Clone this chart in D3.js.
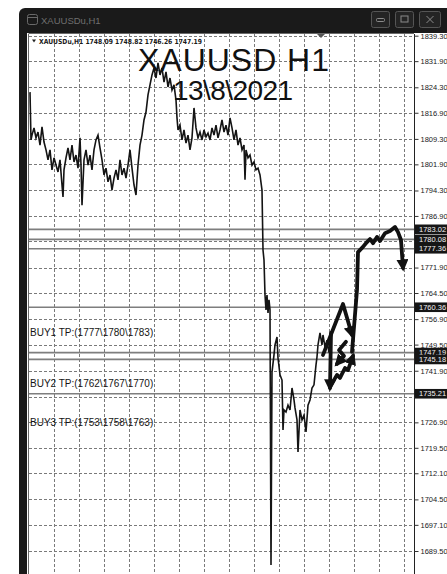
<!DOCTYPE html>
<html><head><meta charset="utf-8">
<script src="https://cdn.jsdelivr.net/npm/d3@7"></script>
<style>html,body{margin:0;padding:0;background:#fff;overflow:hidden}</style>
</head><body><svg id="c" width="447" height="574"></svg>
<script>
// ---------------- data ----------------
const windowTitle = "XAUUSDu,H1";
const ohlcHeader = "XAUUSDu,H1  1748.09 1748.82 1746.26 1747.19";
const chartTitle = "XAUUSD H1";
const chartDate = "13\\8\\2021";

const yTickValues = [1839.30, 1831.90, 1824.30, 1816.90, 1809.30, 1801.90, 1794.30, 1786.90, 1779.50, 1771.90,
  1764.50, 1756.90, 1749.50, 1741.90, 1734.30, 1726.90, 1719.50, 1712.10, 1704.50, 1697.10, 1689.50];
// tick labels covered by level labels in the reference
const hiddenTickValues = [1779.50, 1734.30];
const xGridHours = [25, 50, 75, 100, 125, 150, 175, 200, 225, 250, 275, 300, 325, 350, 375];

// level lines (price) drawn in this order
const levelPrices = [1783.02, 1780.08, 1777.36, 1760.36, 1747.19, 1745.18, 1735.21];

// annotations: texts and the price they sit at
const buyTexts = ["BUY1 TP:(1777\\1780\\1783)", "BUY2 TP:(1762\\1767\\1770)", "BUY3 TP:(1753\\1758\\1763)"];
const buyPrices = [1752.9, 1738.3, 1727.0];

// hourly close series [hour index, price]
const closeSeries = [
 [1,1822.9],[2,1809.0],[3,1810.4],[5,1812.5],[7,1809.6],[9,1811.3],[11,1807.5],[13,1812.8],[15,1808.4],[17,1806.1],
 [19,1803.2],[21,1806.1],[23,1800.3],[25,1803.8],[27,1801.7],[29,1799.7],[31,1803.2],[33,1795.9],[34,1792.4],[35,1800.3],
 [37,1803.8],[39,1806.7],[41,1803.2],[43,1807.5],[45,1802.6],[47,1804.6],[49,1800.8],[51,1809.6],[52,1801.7],[53,1790.0],
 [55,1803.2],[57,1806.1],[59,1801.7],[61,1804.6],[63,1800.3],[65,1806.1],[67,1809.0],[69,1810.4],[71,1806.7],[73,1803.2],
 [75,1798.8],[77,1800.8],[79,1796.8],[81,1798.8],[83,1794.4],[85,1797.9],[87,1800.3],[89,1797.4],[91,1803.2],[93,1798.8],
 [95,1800.8],[97,1797.9],[99,1801.7],[101,1806.1],[103,1800.8],[105,1795.9],[107,1793.0],[109,1801.7],[111,1807.5],[113,1810.4],
 [115,1814.8],[117,1817.1],[119,1822.1],[121,1825.0],[123,1827.9],[125,1829.9],[127,1827.0],[129,1831.4],[131,1827.9],[133,1829.9],
 [135,1825.8],[137,1828.8],[139,1824.4],[141,1827.0],[143,1823.5],[145,1825.0],[147,1820.6],[148,1815.4],[149,1811.9],[151,1813.3],
 [153,1809.0],[155,1811.9],[157,1808.1],[159,1810.4],[161,1806.1],[163,1809.6],[165,1818.3],[167,1812.5],[169,1809.6],[171,1811.3],
 [173,1809.0],[175,1811.9],[177,1809.9],[179,1811.0],[181,1809.0],[183,1812.5],[185,1810.4],[187,1813.3],[189,1809.6],[191,1811.9],
 [193,1814.8],[195,1811.3],[197,1813.3],[199,1810.4],[201,1815.4],[203,1812.5],[205,1809.0],[207,1811.9],[209,1807.5],[211,1809.6],
 [213,1806.1],[215,1807.5],[216,1797.4],[217,1806.1],[219,1803.8],[221,1804.6],[223,1801.7],[225,1802.6],[227,1800.3],[229,1800.8],
 [231,1798.8],[233,1794.4],[234,1777.0],[235,1774.1],[236,1763.9],[237,1759.6],[238,1763.9],[239,1758.7],[240,1762.5],[241,1759.6],
 [242,1685.4],[243,1741.5],[245,1746.5],[246,1749.4],[248,1751.7],[249,1745.6],[251,1740.7],[253,1739.2],[254,1724.7],[255,1730.5],
 [257,1729.9],[259,1731.9],[261,1730.5],[263,1736.9],[265,1733.4],[266,1731.1],[268,1727.6],[269,1718.3],[271,1730.5],[273,1727.6],
 [275,1729.0],[277,1724.1],[279,1731.9],[281,1733.4],[283,1736.9],[285,1737.8],[287,1743.6],[288,1745.9],[289,1749.4],[291,1752.9],
 [293,1749.4],[294,1752.3],[296,1748.8],[298,1750.8],[300,1747.19]
];

// hand-drawn forecast arrows [hour index, price]
const arrowUpDown = [[294,1746.5],[314,1761.3],[323,1752.3]];
const arrowDrop = [[302,1752.9],[301,1736.9]];
const arrowZigUp = [[301,1737.2],[308,1740.7],[311,1739.8],[316,1742.7],[319,1742.1],[324,1746.2]];
const arrowInner = [[317,1750.3],[310,1747.9],[315,1746.2],[308,1743.9]];
const arrowRally = [[323,1747.4],[328,1765.4],[329,1776.4],[333,1777.6],[338,1779.3],[341,1780.2],[344,1779.0],[348,1780.8],
  [351,1779.6],[356,1781.9],[361,1782.5],[366,1783.7],[369,1782.2],[372,1779.9],[374,1771.8]];
const forecastArrows = [arrowUpDown, arrowDrop, arrowZigUp, arrowInner, arrowRally];

// ---------------- drawing ----------------
const svg = d3.select("#c");
const W = 447, H = 574;
const pLeft = 29, pRight = 414, pTop = 34;

const x = d3.scaleLinear().domain([0, 385]).range([pLeft, pRight]);
const y = d3.scaleLinear().domain([1839.3, 1689.5]).range([35.7, 551]);

svg.append("rect").attr("width", W).attr("height", H).attr("fill", "#fff");

// window frame
svg.append("rect").attr("x", 19).attr("y", 8).attr("width", 460).attr("height", 620).attr("rx", 6).attr("fill", "#1a1a1a");
svg.append("rect").attr("x", 27).attr("y", 33).attr("width", 440).attr("height", 560).attr("fill", "#fff");

// title bar
const tb = svg.append("g");
tb.append("rect").attr("x", 27.5).attr("y", 14.5).attr("width", 10).attr("height", 10).attr("rx", 2)
  .attr("fill", "none").attr("stroke", "#6a6a6a");
tb.append("line").attr("x1", 27.5).attr("x2", 37.5).attr("y1", 17.5).attr("y2", 17.5).attr("stroke", "#6a6a6a");
tb.append("text").attr("x", 41).attr("y", 23.5).text(windowTitle)
  .attr("font-family", "'Liberation Sans', Arial, sans-serif").attr("font-size", 9.5).attr("fill", "#6f6f6f");
const btns = [[371, 18], [395, 18], [419, 21]];
btns.forEach(([bx, bw], i) => {
  tb.append("rect").attr("x", bx + 0.5).attr("y", 11.5).attr("width", bw).attr("height", 16).attr("rx", 2)
    .attr("fill", "#242424").attr("stroke", "#555");
  const cx = bx + bw / 2 + 0.5;
  if (i === 0) tb.append("rect").attr("x", cx - 4).attr("y", 18.5).attr("width", 8).attr("height", 3).attr("rx", 1).attr("fill", "none").attr("stroke", "#8a8a8a");
  if (i === 1) tb.append("rect").attr("x", cx - 3.5).attr("y", 16).attr("width", 7).attr("height", 6).attr("fill", "none").attr("stroke", "#8a8a8a");
  if (i === 2) tb.append("path").attr("d", `M${cx-3.5},${16}L${cx+3.5},${23}M${cx+3.5},${16}L${cx-3.5},${23}`).attr("stroke", "#8a8a8a");
});

// clip for plot
const defs = svg.append("defs");
defs.append("clipPath").attr("id", "plot").append("rect")
  .attr("x", pLeft).attr("y", pTop).attr("width", pRight - pLeft).attr("height", H - pTop);
defs.append("marker").attr("id", "ah").attr("viewBox", "0 0 10 10").attr("refX", 7).attr("refY", 5)
  .attr("markerWidth", 3.2).attr("markerHeight", 3.2).attr("orient", "auto")
  .append("path").attr("d", "M0,0L10,5L0,10z").attr("fill", "#111");

const plot = svg.append("g").attr("clip-path", "url(#plot)");

// grid
plot.selectAll(".hg").data(yTickValues).enter().append("line")
  .attr("x1", pLeft).attr("x2", pRight).attr("y1", d => Math.round(y(d)) + 0.5).attr("y2", d => Math.round(y(d)) + 0.5)
  .attr("stroke", "#7a7a7a").attr("stroke-width", 1).attr("stroke-dasharray", "3,2");
plot.selectAll(".vg").data(xGridHours).enter().append("line")
  .attr("x1", d => Math.round(x(d)) + 0.5).attr("x2", d => Math.round(x(d)) + 0.5).attr("y1", pTop).attr("y2", H)
  .attr("stroke", "#7a7a7a").attr("stroke-width", 1).attr("stroke-dasharray", "3,2");

// level lines
plot.selectAll(".lvl").data(levelPrices).enter().append("line")
  .attr("x1", pLeft).attr("x2", pRight).attr("y1", d => y(d)).attr("y2", d => y(d))
  .attr("stroke", "#7e7e7e").attr("stroke-width", 1.7);

// price line
const line = d3.line().x(d => x(d[0])).y(d => y(d[1]));
plot.append("path").datum(closeSeries).attr("d", line)
  .attr("fill", "none").attr("stroke", "#141414").attr("stroke-width", 1.6).attr("stroke-linejoin", "miter");

// forecast arrows
plot.selectAll(".arr").data(forecastArrows).enter().append("path")
  .attr("d", line).attr("fill", "none").attr("stroke", "#111").attr("stroke-width", 3.8)
  .attr("stroke-linejoin", "round").attr("stroke-linecap", "round").attr("marker-end", "url(#ah)");

// annotations
const font = "'Liberation Sans', Arial, sans-serif";
plot.selectAll(".buy").data(buyTexts).enter().append("text")
  .attr("x", 30).attr("y", (d, i) => y(buyPrices[i])).attr("dy", "0.35em")
  .attr("font-family", font).attr("font-size", 10).attr("fill", "#151515").text(d => d);

svg.append("text").attr("x", 138).attr("y", 71).text(chartTitle)
  .attr("font-family", font).attr("font-size", 32).attr("fill", "#111").attr("textLength", 191);
svg.append("text").attr("x", 173).attr("y", 100).text(chartDate)
  .attr("font-family", font).attr("font-size", 28).attr("fill", "#111").attr("textLength", 120);

// OHLC header
svg.append("path").attr("d", "M32,39.5L36,39.5L34,42.5z").attr("fill", "#222");
svg.append("text").attr("x", 39).attr("y", 44).text(ohlcHeader)
  .attr("font-family", "'DejaVu Sans', sans-serif").attr("font-size", 7).attr("font-weight", "bold").attr("fill", "#1a1a1a")
  .attr("textLength", 163).attr("lengthAdjust", "spacingAndGlyphs");
// shift marker
svg.append("path").attr("d", "M317,34L325,34L321,38z").attr("fill", "#555");

// chart border + axis
svg.append("line").attr("x1", pLeft - 0.5).attr("x2", pRight).attr("y1", pTop - 0.5).attr("y2", pTop - 0.5).attr("stroke", "#6a6a6a");
svg.append("line").attr("x1", pLeft - 0.5).attr("x2", pLeft - 0.5).attr("y1", pTop).attr("y2", H).attr("stroke", "#6a6a6a");
const axis = d3.axisRight(y).tickValues(yTickValues)
  .tickFormat(d => hiddenTickValues.includes(d) ? "" : d3.format(".2f")(d)).tickSize(4).tickPadding(2);
const ag = svg.append("g").attr("transform", `translate(${pRight + 0.5},0)`).call(axis);
ag.select(".domain").attr("stroke", "#222").attr("d", `M0,${pTop}V${H}`);
ag.selectAll(".tick line").attr("stroke", "#333");
ag.selectAll(".tick text").attr("font-family", font).attr("font-size", 7.5).attr("fill", "#1a1a1a");

// level labels on axis
const lg = svg.append("g");
levelPrices.forEach(p => {
  const g = lg.append("g").attr("transform", `translate(${pRight + 1},${y(p)})`);
  g.append("rect").attr("x", 0).attr("y", -4.8).attr("width", 40).attr("height", 9.6).attr("fill", "#161616");
  g.append("text").attr("x", 4).attr("y", 0).attr("dy", "0.35em").text(d3.format(".2f")(p))
    .attr("font-family", font).attr("font-size", 7.5).attr("fill", "#f2f2f2");
});
</script>
</body></html>
